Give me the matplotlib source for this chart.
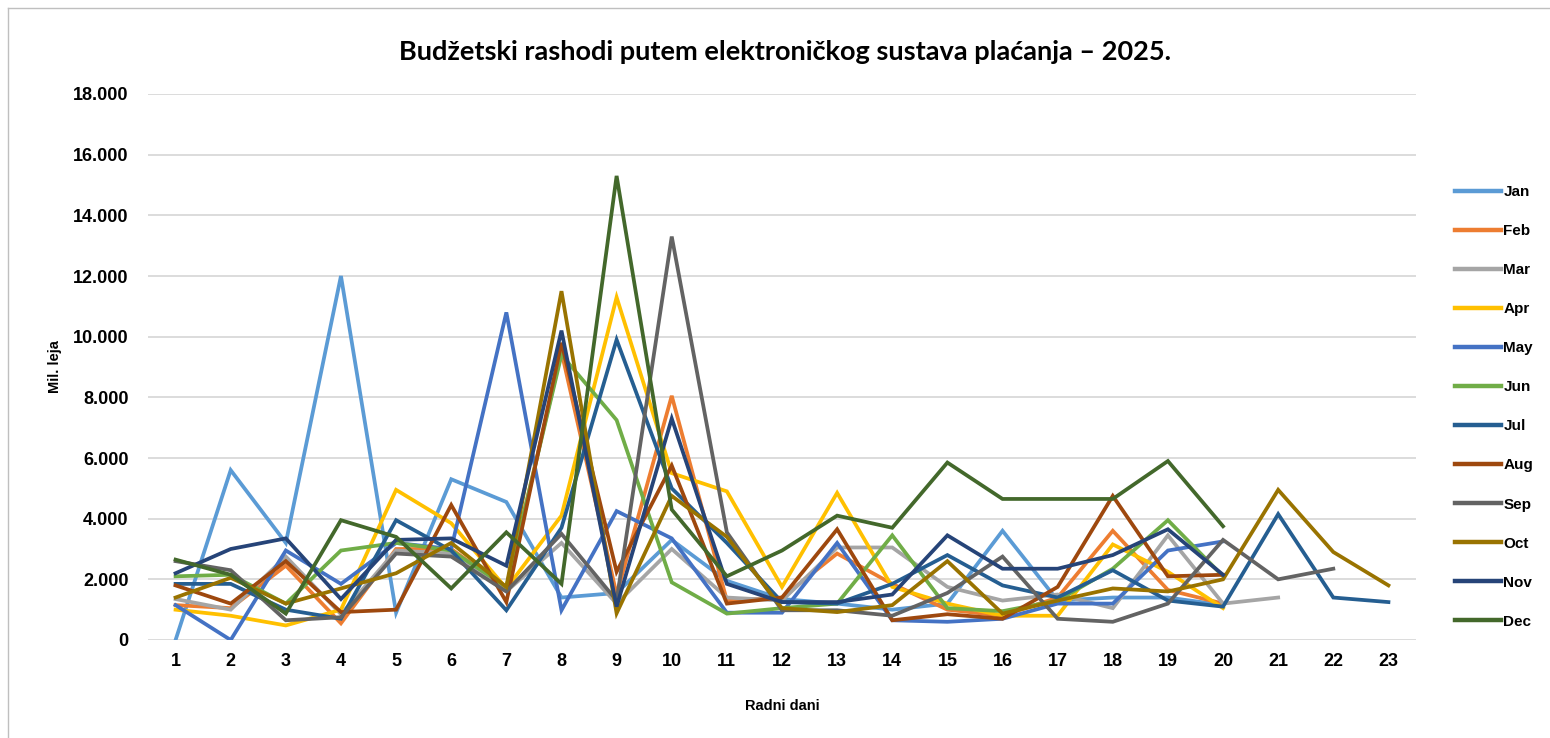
#!/usr/bin/env python3
"""Budžetski rashodi putem elektroničkog sustava plaćanja – 2025: daily spending by working day."""

import matplotlib
matplotlib.use("Agg")
import matplotlib.pyplot as plt
from matplotlib.ticker import FuncFormatter
from matplotlib.lines import Line2D

plt.rcParams["font.family"] = ["Liberation Sans", "DejaVu Sans"]

# --- data (mil. leja per working day) -----------------------------------------------------------
jan = [0, 5600, 3200, 12000, 900, 5300, 4550, 1400, 1550, 3300, 1950, 1350, 1200, 1000, 1200,
       3600, 1300, 1400, 1400, 1150]
feb = [1150, 1050, 2450, 550, 3000, 3000, 1700, 9500, 1500, 8050, 1300, 1400, 2850, 1850, 1000,
       800, 1400, 3600, 1650, 1200]
mar = [1350, 1000, 2750, 850, 2950, 2850, 1600, 3200, 1200, 3000, 1400, 1300, 3050, 3050, 1750,
       1300, 1500, 1050, 3450, 1200, 1400]
apr = [1000, 800, 480, 1000, 4950, 3850, 1700, 4100, 11300, 5500, 4900, 1750, 4850, 1750, 1200,
       800, 800, 3150, 2250, 1050]
may = [1150, 0, 2950, 1850, 3200, 3000, 10800, 980, 4250, 3350, 900, 900, 3200, 650, 600,
       700, 1200, 1200, 2950, 3250]
jun = [2100, 2150, 1200, 2950, 3200, 2950, 1750, 9400, 7250, 1900, 870, 1050, 1200, 3450, 1050,
       950, 1300, 2350, 3950, 2100]
jul = [1850, 1850, 1000, 700, 3950, 2950, 980, 3700, 9900, 5000, 3200, 1250, 1200, 1850, 2800,
       1800, 1400, 2300, 1300, 1100, 4150, 1400, 1250]
aug = [1800, 1200, 2600, 920, 1000, 4450, 1250, 9800, 2250, 5750, 1200, 1400, 3650, 650, 850,
       700, 1750, 4750, 2100, 2150]
sep = [2600, 2300, 650, 750, 2850, 2750, 1600, 3500, 1300, 13300, 3550, 980, 980, 800, 1550,
       2750, 700, 600, 1200, 3300, 2000, 2350]
octo = [1400, 2050, 1200, 1700, 2200, 3200, 1750, 11500, 880, 4750, 3400, 1050, 920, 1150, 2600,
        870, 1300, 1700, 1600, 2000, 4950, 2900, 1800]
nov = [2200, 3000, 3350, 1350, 3300, 3350, 2450, 10200, 1100, 7300, 1850, 1250, 1250, 1500, 3450,
       2350, 2350, 2800, 3650, 2150]
dec = [2650, 2150, 870, 3950, 3400, 1700, 3550, 1850, 15300, 4300, 2100, 2950, 4100, 3700, 5850,
       4650, 4650, 4650, 5900, 3750]

months = ["Jan", "Feb", "Mar", "Apr", "May", "Jun", "Jul", "Aug", "Sep", "Oct", "Nov", "Dec"]
series = [jan, feb, mar, apr, may, jun, jul, aug, sep, octo, nov, dec]
colours = ["#5B9BD5", "#ED7D31", "#A5A5A5", "#FFC000", "#4472C4", "#70AD47",
           "#255E91", "#9E480E", "#636363", "#997300", "#264478", "#43682B"]
days = list(range(1, 24))

# --- figure -------------------------------------------------------------------------------------
fig = plt.figure(figsize=(15.5, 7.38), dpi=100)
ax = fig.add_axes([148 / 1550, 1 - 640 / 738, (1416 - 148) / 1550, (640 - 94) / 738])

for name, vals, col in zip(months, series, colours):
    ax.plot(days[:len(vals)], vals, color=col, linewidth=2.7, label=name,
            solid_joinstyle="miter")

ax.set_xlim(0.5, 23.5)
ax.set_ylim(0, 18000)
ax.set_xticks(days)
ax.set_yticks(range(0, 18001, 2000))
ax.yaxis.set_major_formatter(FuncFormatter(lambda v, _: f"{int(v):,}".replace(",", ".")))
ax.grid(axis="y", color="#D9D9D9", linewidth=1.3)
ax.set_axisbelow(True)
for s in ax.spines.values():
    s.set_visible(False)
ax.tick_params(length=0, labelsize=13, pad=14)
ax.tick_params(axis="x", pad=9)
for lab in ax.get_xticklabels() + ax.get_yticklabels():
    lab.set_fontweight("bold")

ax.set_xlabel("Radni dani", fontsize=10.5, fontweight="bold", labelpad=21)
ax.set_ylabel("Mil. leja", fontsize=10.5, fontweight="bold", labelpad=8)
fig.text(785 / 1550, 1 - 52 / 738, "Budžetski rashodi putem elektroničkog sustava plaćanja – 2025.",
         ha="center", va="center", fontsize=19.5, fontweight="bold", family=["Lato", "DejaVu Sans"])

# legend on the right
handles = [Line2D([], [], color=c, linewidth=3.2) for c in colours]
leg = fig.legend(handles, months, loc="upper left", bbox_to_anchor=(1449 / 1550, 1 - 179 / 738),
                 frameon=False, fontsize=11, handlelength=3.0, handletextpad=0.15,
                 labelspacing=1.64, borderaxespad=0)
for t in leg.get_texts():
    t.set_fontweight("bold")

# thin chart frame (top and left edges visible in the reference)
fig.add_artist(Line2D([8 / 1550, 8 / 1550], [0, 1 - 8 / 738], color="#BFBFBF", linewidth=1,
                      transform=fig.transFigure))
fig.add_artist(Line2D([8 / 1550, 1], [1 - 8 / 738, 1 - 8 / 738], color="#BFBFBF", linewidth=1,
                      transform=fig.transFigure))

fig.savefig("out.png", dpi=100, facecolor="white")
